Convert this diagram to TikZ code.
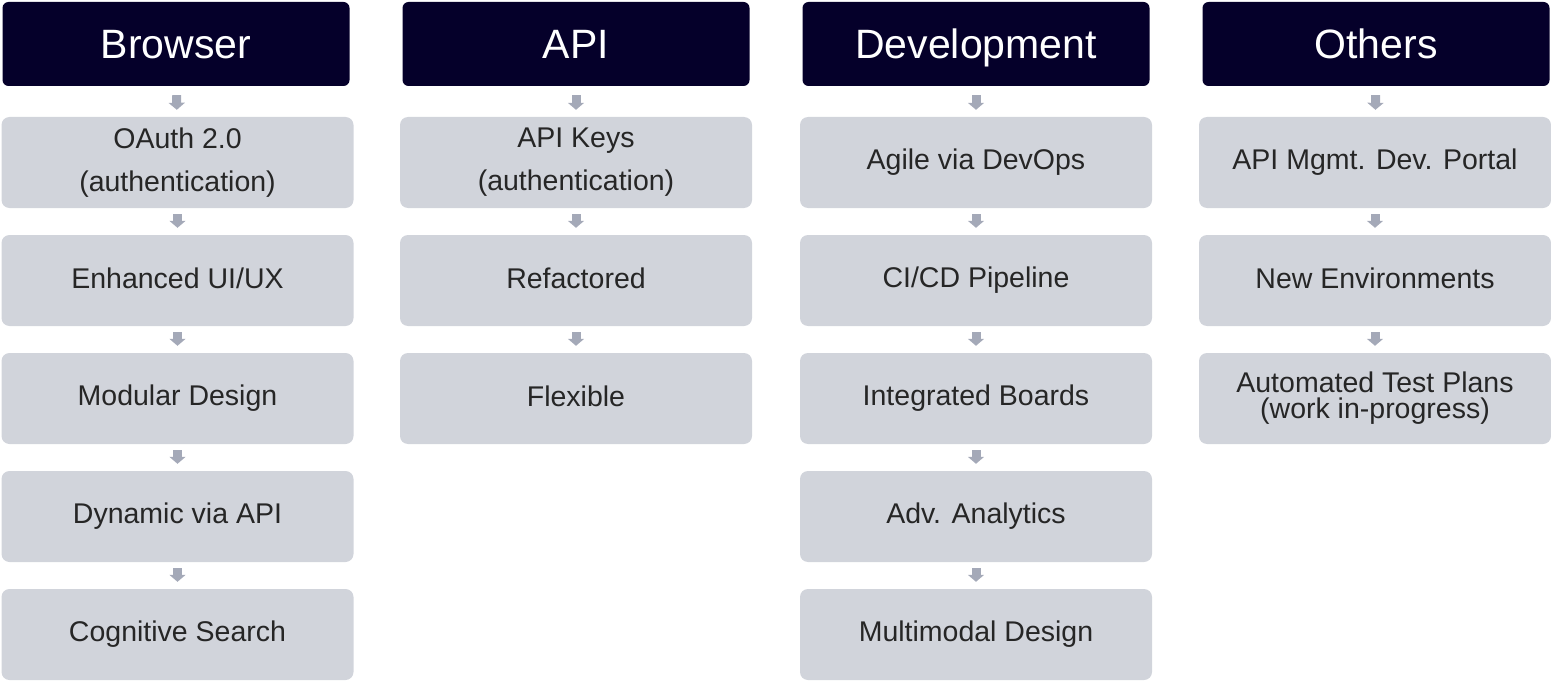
\documentclass[tikz,border=0pt]{standalone}
\usepackage{fontspec}
\setmainfont{Liberation Sans}
\usetikzlibrary{arrows.meta}
\definecolor{headnavy}{HTML}{05002A}
\definecolor{boxgray}{HTML}{D1D4DB}
\definecolor{arrowgray}{HTML}{A4A9B8}
\definecolor{textgray}{HTML}{262626}
\newcommand{\itemstrut}{\rule[-5pt]{0pt}{24pt}}
\tikzset{
  head/.style={fill=headnavy, rounded corners=6pt, minimum width=347pt,
    minimum height=84pt, inner sep=0pt, text=white,
    text height=32pt, text depth=2pt,
    font=\fontsize{41}{41}\selectfont},
  item/.style={fill=boxgray, rounded corners=8pt, minimum width=352pt,
    minimum height=91pt, inner sep=0pt, text=textgray, align=center,
    execute at begin node=\itemstrut,
    font=\fontsize{28.5}{43}\selectfont},
  flow/.style={arrowgray, line width=9pt,
    -{Triangle[width=16pt,length=7pt]}, shorten <=6pt, shorten >=7pt}
}
\begin{document}
\begin{tikzpicture}[x=1pt,y=-1pt]
      \useasboundingbox (0,0) rectangle (1551,682);
      % headers
      \node[head] (browser) at (176,44) {Browser};
      \node[head] (api) at (576,44) {API};
      \node[head] (dev) at (976,44) {Development};
      \node[head] (others) at (1376,44) {Others};
      % browser column
      \node[item] (b1) at (177.5,162.5) {OAuth 2.0\\(authentication)};
      \node[item] (b2) at (177.5,280.5) {Enhanced UI/UX};
      \node[item] (b3) at (177.5,398.5) {Modular Design};
      \node[item] (b4) at (177.5,516.5) {Dynamic via API};
      \node[item] (b5) at (177.5,634.5) {Cognitive Search};
      % api column
      \node[item] (a1) at (576,162.5) {API Keys\\(authentication)};
      \node[item] (a2) at (576,280.5) {Refactored};
      \node[item] (a3) at (576,398.5) {Flexible};
      % development column
      \node[item] (d1) at (976,162.5) {Agile via DevOps};
      \node[item] (d2) at (976,280.5) {CI/CD Pipeline};
      \node[item] (d3) at (976,398.5) {Integrated Boards};
      \node[item] (d4) at (976,516.5) {Adv. Analytics};
      \node[item] (d5) at (976,634.5) {Multimodal Design};
      % others column
      \node[item] (o1) at (1375,162.5) {API Mgmt. Dev. Portal};
      \node[item] (o2) at (1375,280.5) {New Environments};
      \node[item, font=\fontsize{28.5}{26}\selectfont] (o3) at (1375,398.5)
        {Automated Test Plans\\(work in-progress)};
      \begin{scope}[flow]
        \draw[shorten <=9pt] (browser) to (b1);
        \draw (b1) to (b2);
        \draw (b2) to (b3);
        \draw (b3) to (b4);
        \draw (b4) to (b5);
        \draw[shorten <=9pt] (api) to (a1);
        \draw (a1) to (a2);
        \draw (a2) to (a3);
        \draw[shorten <=9pt] (dev) to (d1);
        \draw (d1) to (d2);
        \draw (d2) to (d3);
        \draw (d3) to (d4);
        \draw (d4) to (d5);
        \draw[shorten <=9pt] (others) to (o1);
        \draw (o1) to (o2);
        \draw (o2) to (o3);
      \end{scope}
    \end{tikzpicture}
\end{document}
